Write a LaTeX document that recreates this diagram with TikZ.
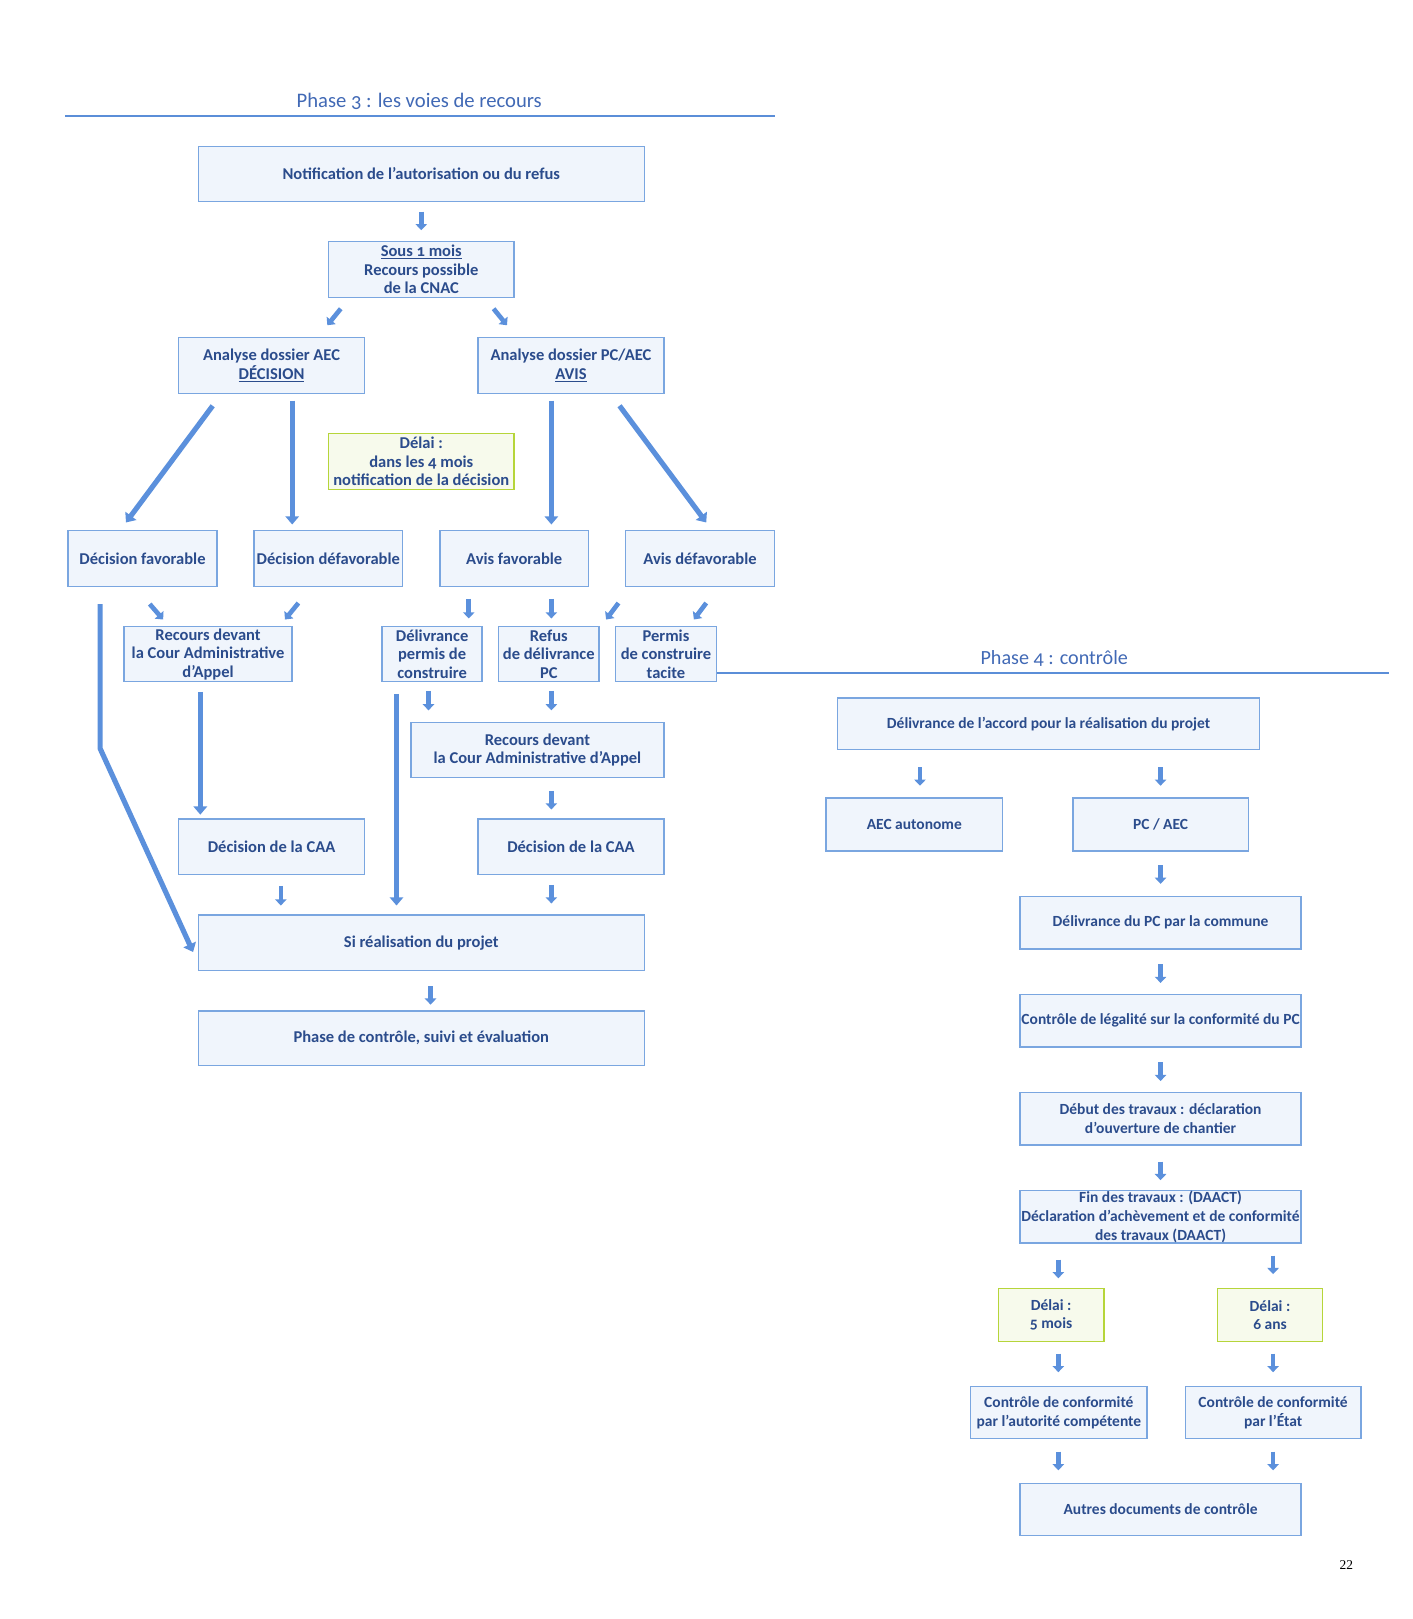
\documentclass[tikz,border=0pt]{standalone}
\usepackage{fontspec}
\setmainfont{Carlito}[Numbers=OldStyle]
\newfontfamily\pagefont{Liberation Serif}
\usetikzlibrary{arrows.meta,calc}
\definecolor{boxc}{HTML}{7AA6E0}
\definecolor{boxf}{HTML}{F0F5FC}
\definecolor{txtc}{HTML}{2B4C8C}
\definecolor{titc}{HTML}{4169B5}
\definecolor{rulec}{HTML}{5B8ED8}
\definecolor{arrc}{HTML}{5B90DC}
\definecolor{grc}{HTML}{B6D53A}
\definecolor{grf}{HTML}{F7FAEC}
\newcommand\bxfont{\fontsize{16}{18}\selectfont\bfseries}
\newcommand\bxfontb{\fontsize{15}{18}\selectfont\bfseries}
\newcommand\mkbox[7][]{\node[box,#1,minimum width={#5-#3},minimum height={#6-#4}] (#2) at ({(#3+#5)/2},{(#4+#6)/2}) {#7};}
\newcommand\conn[7][sarrow]{\draw[#1] ($(#2)+(#3,#4)$) -- ($(#5)+(#6,#7)$);}
\begin{document}
\begin{tikzpicture}[x=1pt,y=-1pt,
 box/.style={draw=boxc, fill=boxf, line width=1.4pt, text=txtc, align=center, inner sep=0pt, font=\bxfont},
 pbox/.style={font=\bxfontb},
 gbox/.style={draw=grc, fill=grf},
 sarrow/.style={draw=arrc, line width=4.5pt, -{Triangle[width=11pt,length=6pt]}},
 larrow/.style={draw=arrc, line width=5pt, line join=round, -{Triangle[width=13pt,length=8pt]}},
 title/.style={text=titc, font=\fontsize{20}{24}\selectfont, inner sep=0pt},
 rulel/.style={draw=rulec, line width=2pt}]
\useasboundingbox (0,0) rectangle (1368,1568);
% Phase 3
\node[title] (ph3) at (406,98) {Phase 3 : les voies de recours};
\draw[rulel] (63,112) -- (751,112);
\mkbox{notif}{192}{142}{624}{195}{Notification de l’autorisation ou du refus}
\mkbox{sous}{318}{234}{498}{288}{\underline{Sous 1 mois}\\Recours possible\\de la CNAC}
\mkbox{aec}{173}{327}{353}{381}{Analyse dossier AEC\\\underline{DÉCISION}}
\mkbox{pc}{463}{327}{643}{381}{Analyse dossier PC/AEC\\\underline{AVIS}}
\mkbox[gbox]{delai}{318}{420}{498}{474}{Délai :\\dans les 4 mois\\notification de la décision}
\mkbox{fav}{66}{514}{210}{568}{Décision favorable}
\mkbox{defav}{246}{514}{390}{568}{Décision défavorable}
\mkbox{avfav}{426}{514}{570}{568}{Avis favorable}
\mkbox{avdef}{606}{514}{750}{568}{Avis défavorable}
\mkbox{rec1}{120}{607}{283}{660}{Recours devant\\la Cour Administrative\\d’Appel}
\mkbox{deliv}{370}{607}{467}{660}{Délivrance\\permis de\\construire}
\mkbox{refus}{483}{607}{580}{660}{Refus\\de délivrance\\PC}
\mkbox{tacite}{596}{607}{694}{660}{Permis\\de construire\\tacite}
\mkbox{rec2}{398}{700}{643}{753}{Recours devant\\la Cour Administrative d’Appel}
\mkbox{caa1}{173}{793}{353}{847}{Décision de la CAA}
\mkbox{caa2}{463}{793}{643}{847}{Décision de la CAA}
\mkbox{si}{192}{886}{624}{940}{Si réalisation du projet}
\mkbox{ctrl}{192}{979}{624}{1032}{Phase de contrôle, suivi et évaluation}
% Phase 3 connectors
\conn{notif}{0}{36.5}{sous}{0}{-38}
\conn{sous}{-78}{38}{aec}{54}{-39}
\conn{sous}{70}{38}{pc}{-62}{-39}
\conn[larrow]{aec}{-57}{39}{fav}{-16}{-35}
\conn[larrow]{aec}{20}{34}{defav}{-35}{-33}
\conn[larrow]{pc}{-19}{34}{avfav}{36}{-33}
\conn[larrow]{pc}{47}{39}{avdef}{6}{-35}
\conn{fav}{7}{44}{rec1}{-43.5}{-33.5}
\conn{defav}{-29}{43}{rec1}{74.5}{-33.5}
\conn{avfav}{-44}{39}{deliv}{35.5}{-34.5}
\conn{avfav}{36}{39}{refus}{2.5}{-34.5}
\conn{avdef}{-79}{43}{refus}{55.5}{-33.5}
\conn{avdef}{6}{43}{tacite}{27}{-33.5}
\draw[larrow] ($(fav)+(-41,44)$) -- ($(fav)+(-41,184)$) -- ($(si)+(-221,9)$);
\conn[larrow]{rec1}{-7.5}{36.5}{caa1}{-69}{-31}
\conn[larrow]{deliv}{-34.5}{38.5}{si}{-24}{-36}
\conn{deliv}{-3.5}{35.5}{rec2}{-105.5}{-38.5}
\conn{refus}{2.5}{35.5}{rec2}{13.5}{-38.5}
\conn{rec2}{13.5}{39.5}{caa2}{-19}{-36}
\conn{caa1}{9}{38}{si}{-136}{-36}
\conn{caa2}{-19}{37}{si}{126}{-38}
\conn{si}{9}{42}{ctrl}{9}{-32.5}
% Phase 4
\node[title, font=\fontsize{19.5}{24}\selectfont] (ph4) at (1021,638) {Phase 4 : contrôle};
\draw[rulel] (tacite.east |- 0,652) -- (1345,652);
\mkbox[pbox]{acc}{811}{676}{1220}{726}{Délivrance de l’accord pour la réalisation du projet}
\mkbox[pbox]{aecA}{800}{773}{971}{824}{AEC autonome}
\mkbox[pbox]{pcaec}{1039}{773}{1209}{824}{PC / AEC}
\mkbox[pbox]{dpc}{988}{868}{1260}{919}{Délivrance du PC par la commune}
\mkbox[pbox]{leg}{988}{963}{1260}{1014}{Contrôle de légalité sur la conformité du PC}
\mkbox[pbox]{debut}{988}{1058}{1260}{1109}{Début des travaux : déclaration\\d’ouverture de chantier}
\mkbox[pbox]{fin}{988}{1153}{1260}{1204}{Fin des travaux : (DAACT)\\Déclaration d’achèvement et de conformité\\des travaux (DAACT)}
\mkbox[pbox,gbox]{d5}{967}{1248}{1069}{1299}{Délai :\\5 mois}
\mkbox[pbox,gbox]{d6}{1179}{1248}{1281}{1299}{Délai :\\6 ans}
\mkbox[pbox]{ca}{940}{1343}{1111}{1393}{Contrôle de conformité\\par l’autorité compétente}
\mkbox[pbox]{ce}{1148}{1343}{1318}{1393}{Contrôle de conformité\\par l’État}
\mkbox[pbox]{autres}{988}{1437}{1260}{1487}{Autres documents de contrôle}
% Phase 4 connectors
\conn{acc}{-124.5}{42}{aecA}{5.5}{-37.5}
\conn{acc}{108.5}{42}{pcaec}{0}{-37.5}
\conn{pcaec}{0}{39.5}{dpc}{0}{-37.5}
\conn{dpc}{0}{40.5}{leg}{0}{-36.5}
\conn{leg}{0}{40.5}{debut}{0}{-36.5}
\conn{debut}{0}{41.5}{fin}{0}{-35.5}
\conn{fin}{-99}{41.5}{d5}{7}{-35.5}
\conn{fin}{109}{37.5}{d6}{3}{-39.5}
\conn{d5}{7}{37.5}{ca}{-0.5}{-39}
\conn{d6}{3}{37.5}{ce}{0}{-39}
\conn{ca}{-0.5}{38}{autres}{-99}{-38}
\conn{ce}{0}{38}{autres}{109}{-38}
\node[font=\pagefont\fontsize{13}{15}\selectfont, inner sep=0pt] (page) at (1304,1516) {22};
\end{tikzpicture}
\end{document}
